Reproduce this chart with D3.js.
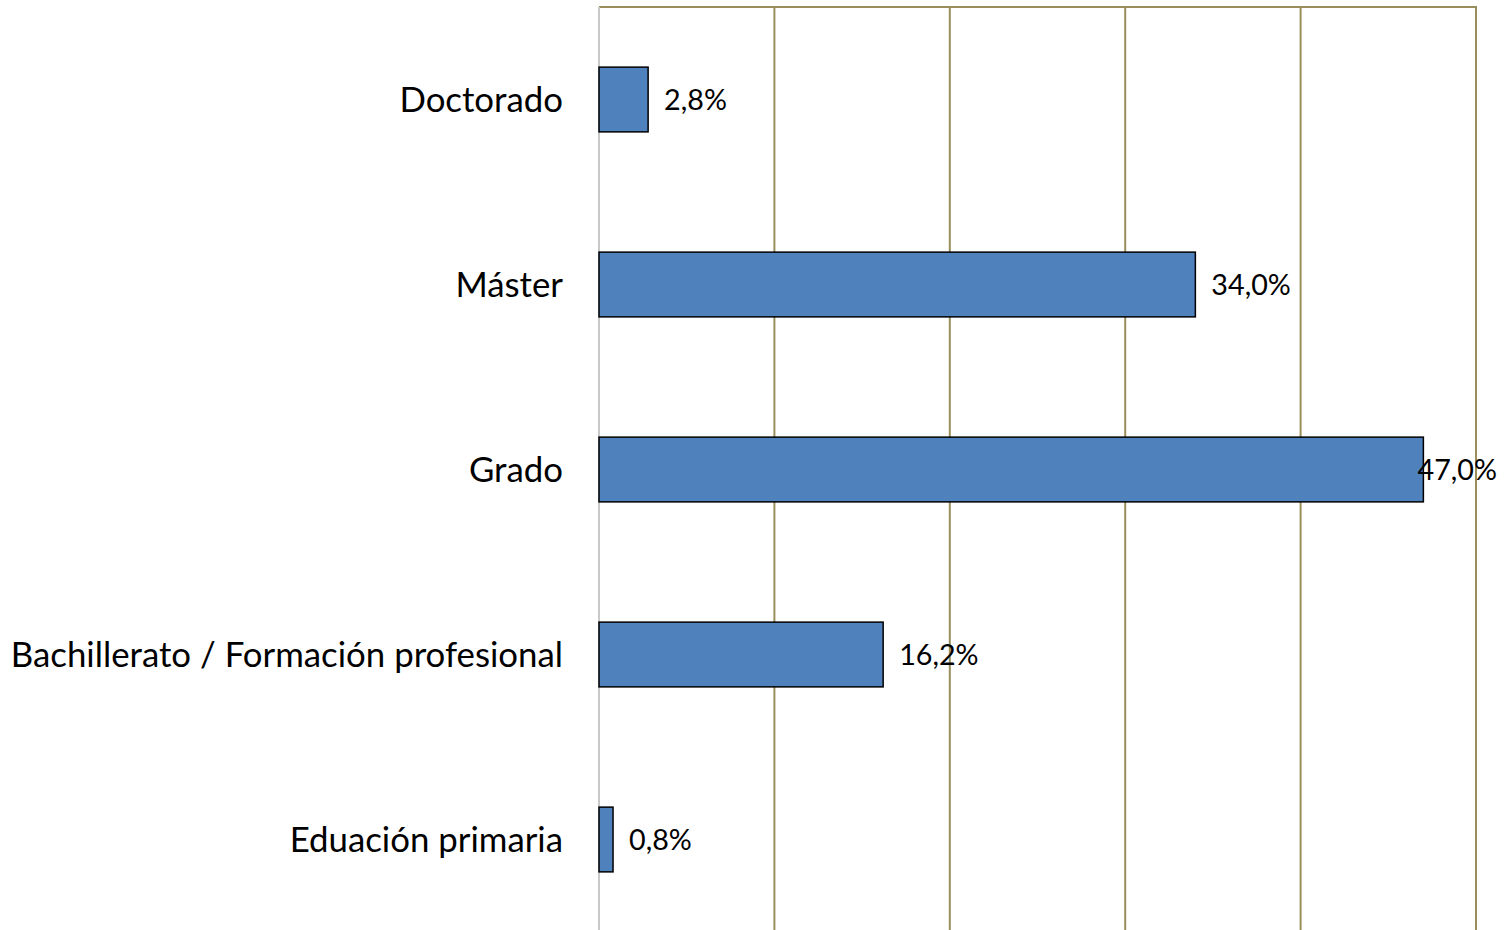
<!DOCTYPE html>
<html><head><meta charset="utf-8">
<script src="https://cdn.jsdelivr.net/npm/d3@7"></script>
<style>html,body{margin:0;padding:0;background:#fff;overflow:hidden}</style>
</head><body><svg id="c" width="1509" height="930"></svg>
<script>
const categories = ["Doctorado","Máster","Grado","Bachillerato / Formación profesional","Eduación primaria"];
const values = [2.8, 34.0, 47.0, 16.2, 0.8];
const labels = ["2,8%","34,0%","47,0%","16,2%","0,8%"];
const xTicks = [0,10,20,30,40,50];

const svg = d3.select("#c");
const pLeft = 599, pRight = 1476, pTop = 7, pBottom = 932;
const x = d3.scaleLinear().domain([0,50]).range([pLeft,pRight]);
const y = d3.scaleBand().domain(categories).range([pTop,pBottom]).paddingInner(0.65).paddingOuter(0.325);
const font = "Lato, 'Open Sans', sans-serif";

// gridlines
svg.append("g").selectAll("line").data(xTicks.slice(1)).join("line")
  .attr("x1",d=>x(d)).attr("x2",d=>x(d)).attr("y1",pTop).attr("y2",pBottom)
  .attr("stroke","#9A8F5C").attr("stroke-width",2);
svg.append("line").attr("x1",pLeft).attr("x2",pRight+1).attr("y1",pTop).attr("y2",pTop)
  .attr("stroke","#9A8F5C").attr("stroke-width",2);
// left axis
svg.append("line").attr("x1",pLeft).attr("x2",pLeft).attr("y1",pTop).attr("y2",pBottom)
  .attr("stroke","#C8C8C8").attr("stroke-width",2);

// bars
svg.append("g").selectAll("rect").data(values).join("rect")
  .attr("x",x(0)).attr("y",(d,i)=>y(categories[i]))
  .attr("width",d=>x(d)-x(0)).attr("height",y.bandwidth())
  .attr("fill","#4F81BD").attr("stroke","#000").attr("stroke-width",1.5);

// category labels
svg.append("g").selectAll("text").data(categories).join("text")
  .attr("x",563).attr("y",d=>y(d)+y.bandwidth()/2).attr("dy","0.36em")
  .attr("text-anchor","end").attr("font-family",font).attr("font-size",34.8).attr("fill","#000")
  .text(d=>d);

// value labels
svg.append("g").selectAll("text").data(values).join("text")
  .attr("y",(d,i)=>y(categories[i])+y.bandwidth()/2).attr("dy","0.36em")
  .attr("font-family",font).attr("font-size",28.7).attr("fill","#000")
  .text((d,i)=>labels[i])
  .attr("x",function(d){ const w=this.getComputedTextLength(); return Math.min(x(d)+16, 1497-w); });
</script></body></html>
